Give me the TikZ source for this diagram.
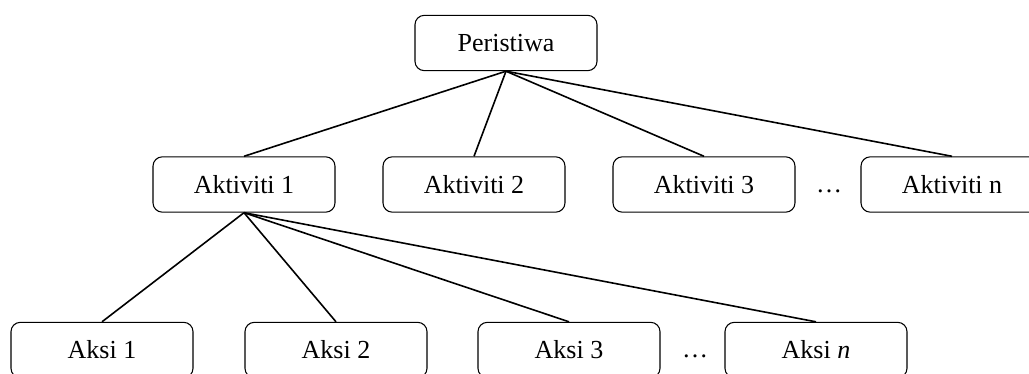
\documentclass[tikz,border=0pt]{standalone}
\usepackage{fontspec}
\setmainfont{Liberation Serif}
\begin{document}
\begin{tikzpicture}[x=0.75pt,y=-0.75pt,
  box/.style={draw, rounded corners=7pt, line width=0.8pt, minimum width=136.5pt, minimum height=41.5pt, inner sep=0pt, font=\fontsize{19.5}{23}\selectfont},
  dots/.style={font=\fontsize{19.5}{23}\selectfont, inner sep=0pt, anchor=base},
  link/.style={line width=1.2pt}]
\useasboundingbox (0,0) rectangle (1029,374);
\begin{scope}
\clip (0,0) rectangle (1029,374);
\node[box] (p) at (506,43) {Peristiwa};
\node[box] (a1) at (244,184.5) {Aktiviti 1};
\node[box] (a2) at (474,184.5) {Aktiviti 2};
\node[box] (a3) at (704,184.5) {Aktiviti 3};
\node[box] (an) at (952,184.5) {Aktiviti n};
\node[dots] (d1) at (829,193) {…};
\node[box] (k1) at (102,350) {Aksi 1};
\node[box] (k2) at (336,350) {Aksi 2};
\node[box] (k3) at (569,350) {Aksi 3};
\node[box] (kn) at (816,350) {Aksi \textit{n}};
\node[dots] (d2) at (695,358) {…};
\foreach \t in {a1,a2,a3,an} \draw[link] (p.south) -- (\t.north);
\foreach \t in {k1,k2,k3,kn} \draw[link] (a1.south) -- (\t.north);
\end{scope}
\end{tikzpicture}
\end{document}
